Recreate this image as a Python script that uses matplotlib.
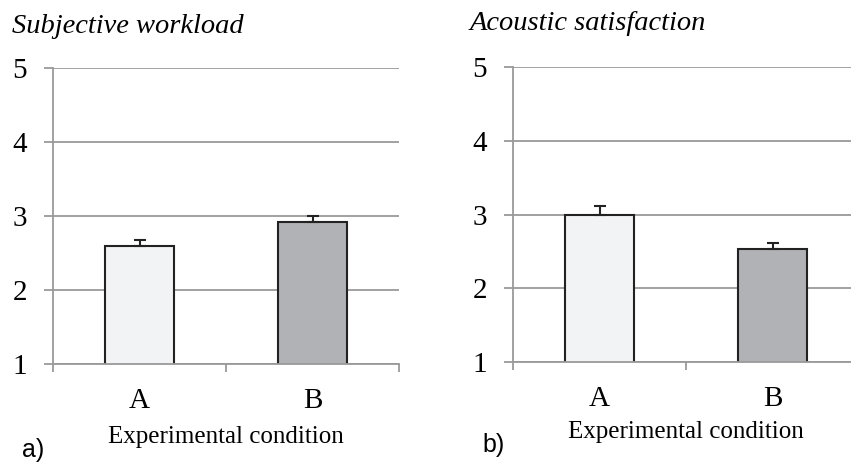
import matplotlib.pyplot as plt

# values
conditions = ["A", "B"]
workload = [2.60, 2.92]
workload_err = [0.08, 0.08]
acoustic = [3.00, 2.53]
acoustic_err = [0.11, 0.09]
bar_colors = ["#f2f3f4", "#b1b2b5"]

plt.rcParams['font.family'] = ['Liberation Serif', 'DejaVu Serif']

fig = plt.figure(figsize=(8.51, 4.63), dpi=100)
grid_col = "#9a9a9a"


def panel(rect, vals, errs, title, letter, title_xy, letter_xy, xlab_xy):
    ax = fig.add_axes(rect)
    pos = [0.5, 1.5]
    ax.bar(pos, vals, width=0.4, bottom=0, color=bar_colors,
           edgecolor="#222222", linewidth=1.5, zorder=3)
    ax.errorbar(pos, vals, yerr=[[0, 0], errs], fmt="none", ecolor="#222222",
                elinewidth=1.5, capsize=4.5, capthick=1.5, zorder=4)
    ax.set_ylim(1, 5)
    ax.set_xlim(0, 2)
    ax.set_yticks([1, 2, 3, 4, 5])
    ax.yaxis.grid(True, color=grid_col, linewidth=1.3, zorder=0)
    ax.set_xticks([0, 1, 2])
    ax.set_xticklabels([])
    ax.set_xticks(pos, minor=True)
    ax.set_xticklabels(conditions, minor=True, fontsize=21)
    ax.tick_params(axis="x", which="minor", length=0, pad=17)
    ax.tick_params(axis="x", which="major", length=6, color=grid_col, width=1.3)
    ax.tick_params(axis="y", length=6.5, color=grid_col, width=1.3, labelsize=21, pad=12)
    for s in ["top", "right"]:
        ax.spines[s].set_visible(False)
    for s in ["left", "bottom"]:
        ax.spines[s].set_color(grid_col)
        ax.spines[s].set_linewidth(1.3)
    ax.spines["bottom"].set_zorder(5)
    fig.text(title_xy[0], title_xy[1], title, fontsize=20.5, style="italic",
             ha="left", va="baseline")
    fig.text(letter_xy[0], letter_xy[1], letter, fontsize=18, ha="left", va="center",
             family=["Liberation Sans"])
    fig.text(xlab_xy[0], xlab_xy[1], "Experimental condition", fontsize=18,
             ha="center", va="center")
    return ax


panel([53 / 851, 1 - 364 / 463, 346 / 851, 296 / 463], workload, workload_err,
      "Subjective workload", "a)", (12 / 851, 1 - 33 / 463),
      (22 / 851, 1 - 450 / 463), (226 / 851, 1 - 437 / 463))
panel([513 / 851, 1 - 362 / 463, 346 / 851, 295 / 463], acoustic, acoustic_err,
      "Acoustic satisfaction", "b)", (470 / 851, 1 - 30 / 463),
      (482 / 851, 1 - 445 / 463), (686 / 851, 1 - 432 / 463))

fig.savefig("out.png", dpi=100)
